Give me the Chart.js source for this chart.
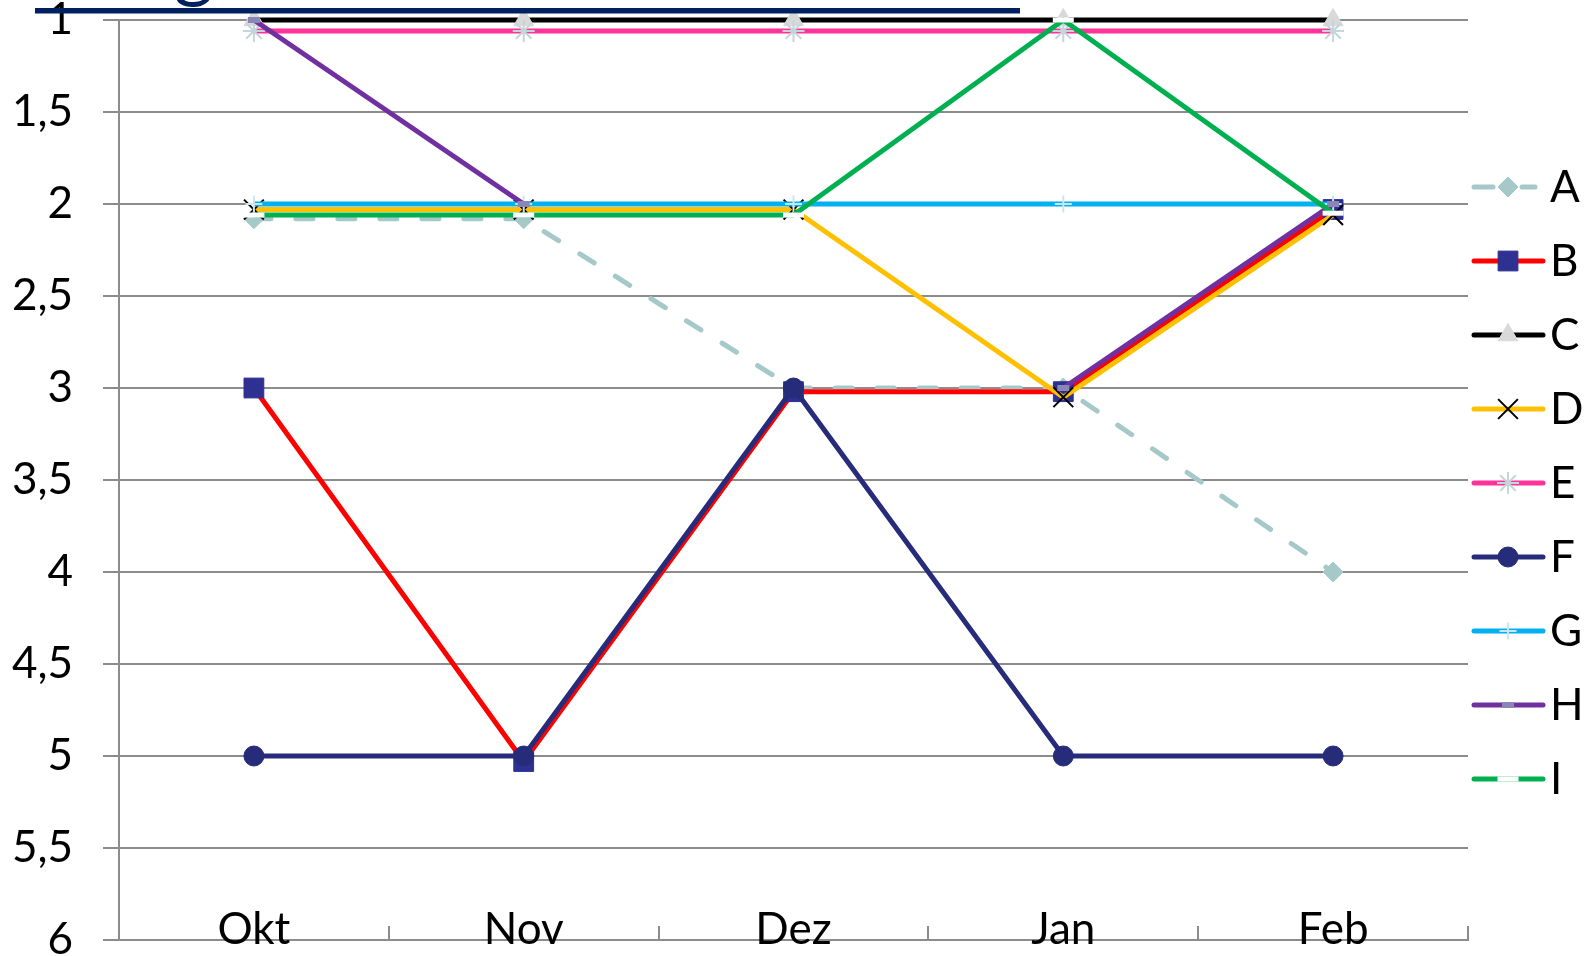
<!DOCTYPE html>
<html>
<head>
<meta charset="utf-8">
<script src="https://cdn.jsdelivr.net/npm/chart.js"></script>
<style>
  html, body { margin: 0; padding: 0; background: #fff; }
  #wrap { width: 1593px; height: 956px; position: relative; }
</style>
</head>
<body>
<div id="wrap"><canvas id="c"></canvas></div>
<script>
// ---- data ----
const categories = ['Okt', 'Nov', 'Dez', 'Jan', 'Feb'];
const yTickLabels = ['1', '1,5', '2', '2,5', '3', '3,5', '4', '4,5', '5', '5,5', '6'];
const seriesNames = ['A', 'B', 'C', 'D', 'E', 'F', 'G', 'H', 'I'];
const valuesA = [2.08, 2.08, 3.0, 3.0, 4.0];
const valuesB = [3.0, 5.03, 3.02, 3.02, 2.03];
const valuesC = [1, 1, 1, 1, 1];
const valuesD = [2.03, 2.03, 2.03, 3.05, 2.06];
const valuesE = [1.06, 1.06, 1.06, 1.06, 1.06];
const valuesF = [5, 5, 3, 5, 5];
const valuesG = [2, 2, 2, 2, 2];
const valuesH = [1, 2, null, 3, 2];
const valuesI = [2.06, 2.06, 2.06, 1, 2.05];
const seriesValues = [valuesA, valuesB, valuesC, valuesD, valuesE, valuesF, valuesG, valuesH, valuesI];

// ---- styles ----
const styles = [
  { line: '#A5C8C9', dash: [17, 25], ps: 'rectRot', r: 10, fill: '#A5C8C9', stroke: '#A5C8C9', bw: 1 },
  { line: '#FF0000', dash: [], ps: 'rect', r: 14, fill: '#2E3192', stroke: '#2E3192', bw: 1 },
  { line: '#000000', dash: [], ps: 'triangle', r: 11.5, fill: '#D9D9D9', stroke: '#D9D9D9', bw: 1 },
  { line: '#FFC000', dash: [], ps: 'crossRot', r: 14, fill: '#000000', stroke: '#000000', bw: 2 },
  { line: '#FF3399', dash: [], ps: 'star', r: 11, fill: '#C3D6DA', stroke: '#C3D6DA', bw: 2 },
  { line: '#262B7A', dash: [], ps: 'circle', r: 10, fill: '#262B7A', stroke: '#262B7A', bw: 1 },
  { line: '#00B0F0', dash: [], ps: 'cross', r: 8.5, fill: '#CBE6EE', stroke: '#CBE6EE', bw: 2 },
  { line: '#7030A0', dash: [], ps: 'line', r: 6, fill: '#8A86B8', stroke: '#8A86B8', bw: 6 },
  { line: '#00B050', dash: [], ps: 'line', r: 10.5, fill: '#FFFFFF', stroke: '#FFFFFF', bw: 5 }
];

const FONT = 'Lato, "Open Sans", "DejaVu Sans", sans-serif';
const GRID = '#8C8C8C';
const LINE_W = 5;

const datasets = seriesNames.map((name, i) => ({
  label: name,
  data: seriesValues[i],
  borderColor: styles[i].line,
  backgroundColor: styles[i].line,
  borderWidth: LINE_W,
  borderDash: styles[i].dash,
  borderCapStyle: styles[i].dash.length ? 'round' : 'butt',
  borderJoinStyle: 'round',
  pointStyle: styles[i].ps,
  pointRadius: styles[i].r,
  pointHoverRadius: styles[i].r,
  pointBackgroundColor: styles[i].fill,
  pointBorderColor: styles[i].stroke,
  pointBorderWidth: styles[i].bw,
  tension: 0,
  spanGaps: false,
  clip: 30,
  order: seriesNames.length - i
}));

function drawMarker(ctx, s, x, y) {
  const r = s.r;
  ctx.save();
  ctx.fillStyle = s.fill;
  ctx.strokeStyle = s.stroke;
  ctx.lineWidth = s.bw;
  ctx.setLineDash([]);
  ctx.lineCap = 'butt';
  ctx.beginPath();
  switch (s.ps) {
    case 'rectRot':
      ctx.moveTo(x - r, y); ctx.lineTo(x, y - r); ctx.lineTo(x + r, y); ctx.lineTo(x, y + r); ctx.closePath();
      ctx.fill(); ctx.stroke(); break;
    case 'rect': {
      const h = Math.SQRT1_2 * r;
      ctx.rect(x - h, y - h, 2 * h, 2 * h); ctx.fill(); ctx.stroke(); break;
    }
    case 'triangle': {
      const a2 = 2 * Math.PI / 3, a3 = 4 * Math.PI / 3;
      ctx.moveTo(x, y - r);
      ctx.lineTo(x + Math.sin(a2) * r, y - Math.cos(a2) * r);
      ctx.lineTo(x + Math.sin(a3) * r, y - Math.cos(a3) * r);
      ctx.closePath(); ctx.fill(); ctx.stroke(); break;
    }
    case 'crossRot': {
      const d = Math.SQRT1_2 * r;
      ctx.moveTo(x - d, y - d); ctx.lineTo(x + d, y + d);
      ctx.moveTo(x - d, y + d); ctx.lineTo(x + d, y - d); ctx.stroke(); break;
    }
    case 'star': {
      const d = Math.SQRT1_2 * r;
      ctx.moveTo(x - d, y - d); ctx.lineTo(x + d, y + d);
      ctx.moveTo(x - d, y + d); ctx.lineTo(x + d, y - d);
      ctx.moveTo(x, y - r); ctx.lineTo(x, y + r);
      ctx.moveTo(x - r, y); ctx.lineTo(x + r, y); ctx.stroke(); break;
    }
    case 'cross':
      ctx.moveTo(x, y - r); ctx.lineTo(x, y + r);
      ctx.moveTo(x - r, y); ctx.lineTo(x + r, y); ctx.stroke(); break;
    case 'circle':
      ctx.arc(x, y, r, 0, Math.PI * 2); ctx.fill(); ctx.stroke(); break;
    case 'line':
      ctx.moveTo(x - r, y); ctx.lineTo(x + r, y); ctx.stroke(); break;
  }
  ctx.restore();
}

const legendPlugin = {
  id: 'customLegend',
  afterDraw(chart) {
    const ctx = chart.ctx;
    const x0 = 1474, x1 = 1543, cx = 1508, tx = 1550, y0 = 187, dy = 74;
    seriesNames.forEach((name, i) => {
      const s = styles[i];
      const y = y0 + i * dy;
      ctx.save();
      ctx.strokeStyle = s.line;
      ctx.lineWidth = LINE_W;
      ctx.lineCap = 'round';
      ctx.beginPath();
      if (s.dash.length) {
        ctx.moveTo(x0, y); ctx.lineTo(1493, y);
        ctx.moveTo(1522, y); ctx.lineTo(1535, y);
      } else {
        ctx.moveTo(x0, y); ctx.lineTo(x1, y);
      }
      ctx.stroke();
      ctx.restore();
      drawMarker(ctx, s, cx, y);
      ctx.save();
      ctx.fillStyle = '#000';
      ctx.font = '44px ' + FONT;
      ctx.textAlign = 'left';
      ctx.textBaseline = 'middle';
      ctx.fillText(name, tx, y + 1);
      ctx.restore();
    });
  }
};

const titlePlugin = {
  id: 'titleRemnant',
  afterDraw(chart) {
    const ctx = chart.ctx;
    ctx.save();
    ctx.fillStyle = '#002060';
    ctx.fillRect(35, 8, 985, 5.5);
    ctx.font = '76px ' + FONT;
    ctx.textBaseline = 'alphabetic';
    ctx.fillText('g', 174, -7);
    ctx.restore();
  }
};

Chart.defaults.font.family = FONT;
Chart.defaults.color = '#000';

new Chart(document.getElementById('c'), {
  type: 'line',
  data: { labels: categories, datasets: datasets },
  options: {
    responsive: true,
    maintainAspectRatio: false,
    animation: false,
    events: [],
    layout: { padding: { top: 20, right: 125, bottom: 0, left: 0 } },
    plugins: { legend: { display: false }, tooltip: { enabled: false }, title: { display: false } },
    scales: {
      x: {
        type: 'category',
        offset: true,
        grid: { offset: true, drawOnChartArea: false, drawTicks: true, tickLength: -14, color: GRID, lineWidth: 2 },
        border: { display: true, color: GRID, width: 2 },
        ticks: { mirror: true, padding: -16, font: { size: 44 }, color: '#000', maxRotation: 0, minRotation: 0, autoSkip: false },
        afterFit(scale) { scale.height = 16; scale.paddingLeft = 0; scale.paddingRight = 0; }
      },
      y: {
        min: 1,
        max: 6,
        reverse: true,
        grid: { color: GRID, lineWidth: 2, tickLength: 16, drawTicks: true },
        border: { display: true, color: GRID, width: 2 },
        ticks: {
          stepSize: 0.5,
          padding: 30,
          font: { size: 44 },
          color: '#000',
          callback: (v) => yTickLabels[Math.round((v - 1) * 2)]
        },
        afterFit(scale) { scale.width = 119; scale.paddingTop = 0; scale.paddingBottom = 0; }
      }
    }
  },
  plugins: [legendPlugin, titlePlugin]
});
</script>
</body>
</html>
